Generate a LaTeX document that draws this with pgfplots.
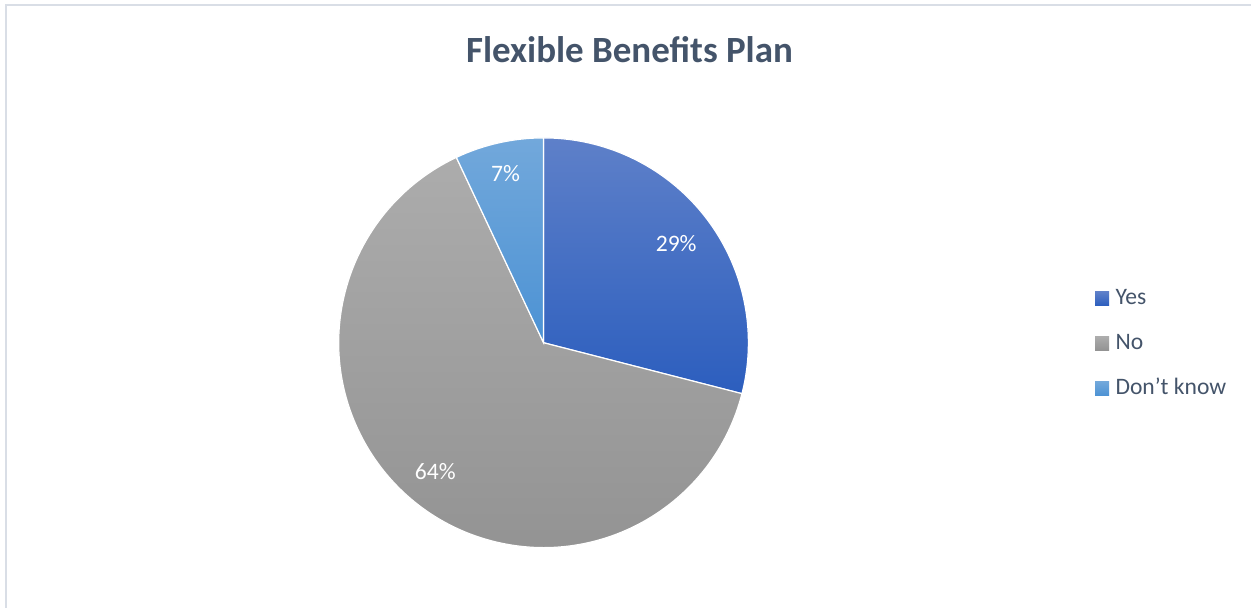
\documentclass[border=0pt]{standalone}
\usepackage{fontspec}
\setmainfont{Carlito}
\usepackage{pgfplots}
\usepackage{pgfplotstable}
\pgfplotsset{compat=1.18}
\definecolor{yesA}{RGB}{94,128,201}
\definecolor{yesB}{RGB}{44,94,190}
\definecolor{noA}{RGB}{172,172,172}
\definecolor{noB}{RGB}{146,146,146}
\definecolor{dkA}{RGB}{114,168,219}
\definecolor{dkB}{RGB}{76,146,212}
\definecolor{txt}{RGB}{68,84,106}
\definecolor{framecol}{RGB}{217,222,230}

\pgfplotstableread{
label value
Yes 29
No 64
Dontknow 7
}\piedata

\begin{document}
\begin{tikzpicture}
\pgfplotstablegetelem{0}{value}\of\piedata \edef\vA{\pgfplotsretval}
\pgfplotstablegetelem{1}{value}\of\piedata \edef\vB{\pgfplotsretval}
\pgfplotstablegetelem{2}{value}\of\piedata \edef\vC{\pgfplotsretval}
\pgfmathsetmacro\sA{90}
\pgfmathsetmacro\eA{\sA-3.6*\vA}
\pgfmathsetmacro\eB{\eA-3.6*\vB}
\pgfmathsetmacro\eC{\eB-3.6*\vC}
\pgfmathsetmacro\mA{(\sA+\eA)/2}
\pgfmathsetmacro\mB{(\eA+\eB)/2}
\pgfmathsetmacro\mC{(\eB+\eC)/2}
\begin{axis}[scale only axis, width=626bp, height=304bp,
  xmin=0, xmax=1252, ymin=0, ymax=608, y dir=reverse,
  hide axis, clip=false]
\path (axis cs:0,0) rectangle (axis cs:1252,608);
\draw[framecol, line width=1bp] (axis cs:6,608) -- (axis cs:6,5) -- (axis cs:1252,5);
% pie slices
\shadedraw[top color=yesA, bottom color=yesB, draw=white, line width=0.6bp]
  (axis cs:544,343) -- ++(\sA:102.5bp) arc[start angle=\sA, end angle=\eA, radius=102.5bp] -- cycle;
\shadedraw[top color=noA, bottom color=noB, draw=white, line width=0.6bp]
  (axis cs:544,343) -- ++(\eA:102.5bp) arc[start angle=\eA, end angle=\eB, radius=102.5bp] -- cycle;
\shadedraw[top color=dkA, bottom color=dkB, draw=white, line width=0.6bp]
  (axis cs:544,343) -- ++(\eB:102.5bp) arc[start angle=\eB, end angle=\eC, radius=102.5bp] -- cycle;
% data labels
\path (axis cs:544,343) ++(\mA:84bp) node[white, font=\fontsize{11.8bp}{14bp}\selectfont, yshift=-2bp] {\vA\%};
\path (axis cs:544,343) ++(\mB:85bp) node[white, font=\fontsize{11.8bp}{14bp}\selectfont, yshift=1bp] {\vB\%};
\path (axis cs:544,343) ++(\mC:87bp) node[white, font=\fontsize{11.8bp}{14bp}\selectfont] {\vC\%};
% title
\node[txt, font=\fontsize{18.5bp}{22bp}\selectfont\bfseries] at (axis cs:630,50) {Flexible Benefits Plan};
% legend
\shade[top color=yesA, bottom color=yesB] (axis cs:1096,292) rectangle (axis cs:1110,306);
\shade[top color=noA, bottom color=noB] (axis cs:1096,337) rectangle (axis cs:1110,351);
\shade[top color=dkA, bottom color=dkB] (axis cs:1096,382) rectangle (axis cs:1110,396);
\node[txt, anchor=base west, inner sep=0pt, font=\fontsize{11.8bp}{14bp}\selectfont] at (axis cs:1116,305) {Yes};
\node[txt, anchor=base west, inner sep=0pt, font=\fontsize{11.8bp}{14bp}\selectfont] at (axis cs:1116,350) {No};
\node[txt, anchor=base west, inner sep=0pt, font=\fontsize{11.8bp}{14bp}\selectfont] at (axis cs:1116,395) {Don\symbol{39}t know};
\end{axis}
\end{tikzpicture}
\end{document}
